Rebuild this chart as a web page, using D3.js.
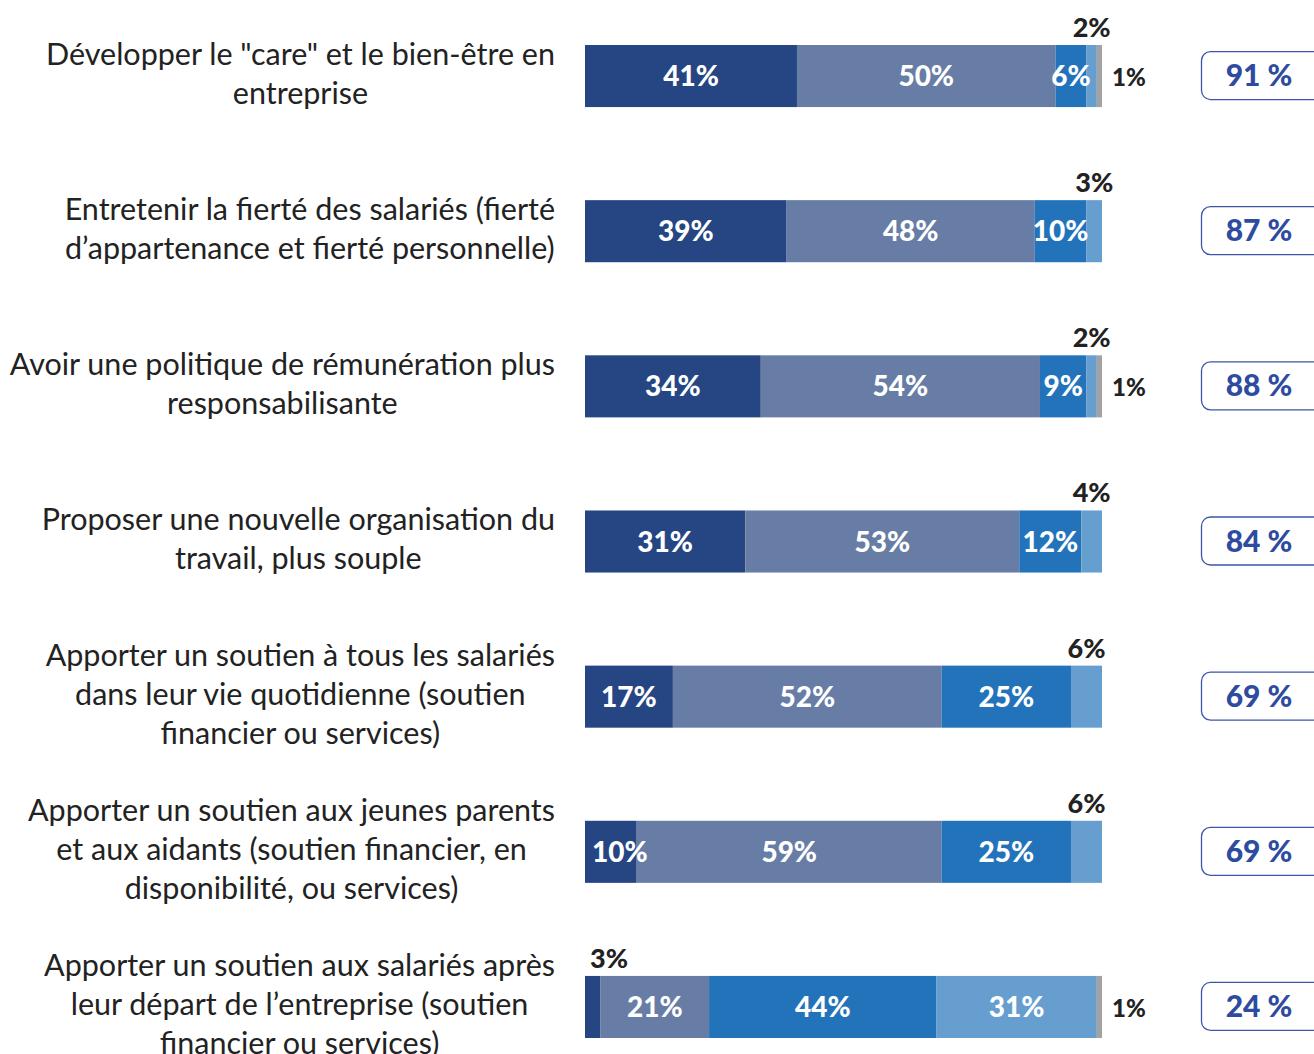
<!DOCTYPE html>
<html>
<head>
<meta charset="utf-8">
<script src="https://cdn.jsdelivr.net/npm/d3@7"></script>
<style>
  body { margin: 0; background: #fff; }
  svg { display: block; }
</style>
</head>
<body>
<div id="chart"></div>
<script>
// Categories (row labels, one array of lines per row)
var categories = [
  ["Développer le \"care\" et le bien-être en", "entreprise"],
  ["Entretenir la fierté des salariés (fierté", "d’appartenance et fierté personnelle)"],
  ["Avoir une politique de rémunération plus", "responsabilisante"],
  ["Proposer une nouvelle organisation du", "travail, plus souple"],
  ["Apporter un soutien à tous les salariés", "dans leur vie quotidienne (soutien", "financier ou services)"],
  ["Apporter un soutien aux jeunes parents", "et aux aidants (soutien financier, en", "disponibilité, ou services)"],
  ["Apporter un soutien aux salariés après", "leur départ de l’entreprise (soutien", "financier ou services)"]
];

// Series values (%)
var toutAFait   = [41, 39, 34, 31, 17, 10, 3];
var plutot      = [50, 48, 54, 53, 52, 59, 21];
var plutotPas   = [6, 10, 9, 12, 25, 25, 44];
var pasDuTout   = [2, 3, 2, 4, 6, 6, 31];
var nsp         = [1, 0, 1, 0, 0, 0, 1];

// Totals shown in the boxes
var totals = [91, 87, 88, 84, 69, 69, 24];

var seriesKeys = ["toutAFait", "plutot", "plutotPas", "pasDuTout", "nsp"];
var colors = ["#254583", "#677da5", "#2373bb", "#659ecf", "#a2a2a2"];

var width = 1314, height = 1054;

var rows = categories.map(function(c, i) {
  return {
    id: i, lines: c,
    toutAFait: toutAFait[i], plutot: plutot[i], plutotPas: plutotPas[i],
    pasDuTout: pasDuTout[i], nsp: nsp[i], total: totals[i]
  };
});

var svg = d3.select("#chart").append("svg")
  .attr("width", width)
  .attr("height", height);

var x = d3.scaleLinear().domain([0, 100]).range([585, 1102]);
var y = d3.scaleBand().domain(rows.map(function(d) { return d.id; }))
  .range([45, 1038]).paddingInner(0.6).paddingOuter(0);

var stack = d3.stack().keys(seriesKeys);
var series = stack(rows);

// Bars
var layer = svg.append("g").selectAll("g")
  .data(series)
  .enter().append("g")
  .attr("fill", function(d, i) { return colors[i]; });

layer.selectAll("rect")
  .data(function(d) { return d; })
  .enter().append("rect")
  .attr("x", function(d) { return x(d[0]); })
  .attr("y", function(d) { return y(d.data.id); })
  .attr("width", function(d) { return x(d[1]) - x(d[0]); })
  .attr("height", y.bandwidth());

// Value labels
var labels = [];
series.forEach(function(s, k) {
  s.forEach(function(d) {
    var v = d[1] - d[0];
    if (v <= 0) return;
    var pos;
    if (k === 4) pos = "right";
    else if (v <= 6 && k !== 2) pos = "above";
    else pos = "inside";
    labels.push({ v: v, k: k, x0: d[0], x1: d[1], row: d.data.id, pos: pos });
  });
});

var bh = y.bandwidth();
var valText = svg.append("g").selectAll("text")
  .data(labels)
  .enter().append("text")
  .attr("font-family", "Lato, 'DejaVu Sans', sans-serif")
  .attr("font-weight", 900)
  .attr("font-size", function(d) { return d.pos === "inside" ? 28 : (d.pos === "right" ? 24 : 27); })
  .attr("fill", function(d) { return d.pos === "inside" ? "#fff" : "#222"; })
  .attr("text-anchor", function(d) { return d.pos === "right" ? "start" : "middle"; })
  .attr("y", function(d) {
    var top = y(d.row);
    if (d.pos === "above") return top - 8;
    return top + bh / 2 + 10;
  })
  .text(function(d) { return d.v + "%"; });

// keep labels off the left edge of the bar
valText.attr("x", function(d) {
  if (d.pos === "right") return x(100) + 10;
  var w = this.getComputedTextLength();
  var cx = (x(d.x0) + x(d.x1)) / 2;
  if (d.pos === "above") cx = Math.max(cx, x(0) + w / 2 + 5);
  else cx = Math.max(cx, x(0) + w / 2 + 7);
  return cx;
});

// Category labels (centred block, widest line ending at 555)
var labelG = svg.append("g")
  .attr("font-family", "Lato, 'Open Sans', sans-serif")
  .attr("font-size", 30.5)
  .attr("fill", "#222");

rows.forEach(function(r) {
  var g = labelG.append("g");
  var lh = 39;
  var cy = y(r.id) + bh / 2 - 2;
  var startY = cy - (r.lines.length - 1) * lh / 2;
  var texts = g.selectAll("text").data(r.lines).enter().append("text")
    .attr("text-anchor", "middle")
    .attr("y", function(d, i) { return startY + i * lh + 10; })
    .text(function(d) { return d; });
  var maxW = 0;
  texts.each(function() { maxW = Math.max(maxW, this.getComputedTextLength()); });
  texts.attr("x", 555 - maxW / 2);
});

// Total boxes
var box = svg.append("g").selectAll("g")
  .data(rows)
  .enter().append("g")
  .attr("transform", function(d) { return "translate(1201," + (y(d.id) + bh / 2 - 25) + ")"; });

box.append("rect")
  .attr("x", 0.5).attr("y", 0.5)
  .attr("width", 130).attr("height", 48)
  .attr("rx", 9)
  .attr("fill", "#fff")
  .attr("stroke", "#3d55a8")
  .attr("stroke-width", 1.3);

box.append("text")
  .attr("x", 58).attr("y", 35)
  .attr("text-anchor", "middle")
  .attr("font-family", "Lato, 'DejaVu Sans', sans-serif")
  .attr("font-weight", 900)
  .attr("font-size", 30)
  .attr("fill", "#2e4ba0")
  .text(function(d) { return d.total + " %"; });
</script>
</body>
</html>
